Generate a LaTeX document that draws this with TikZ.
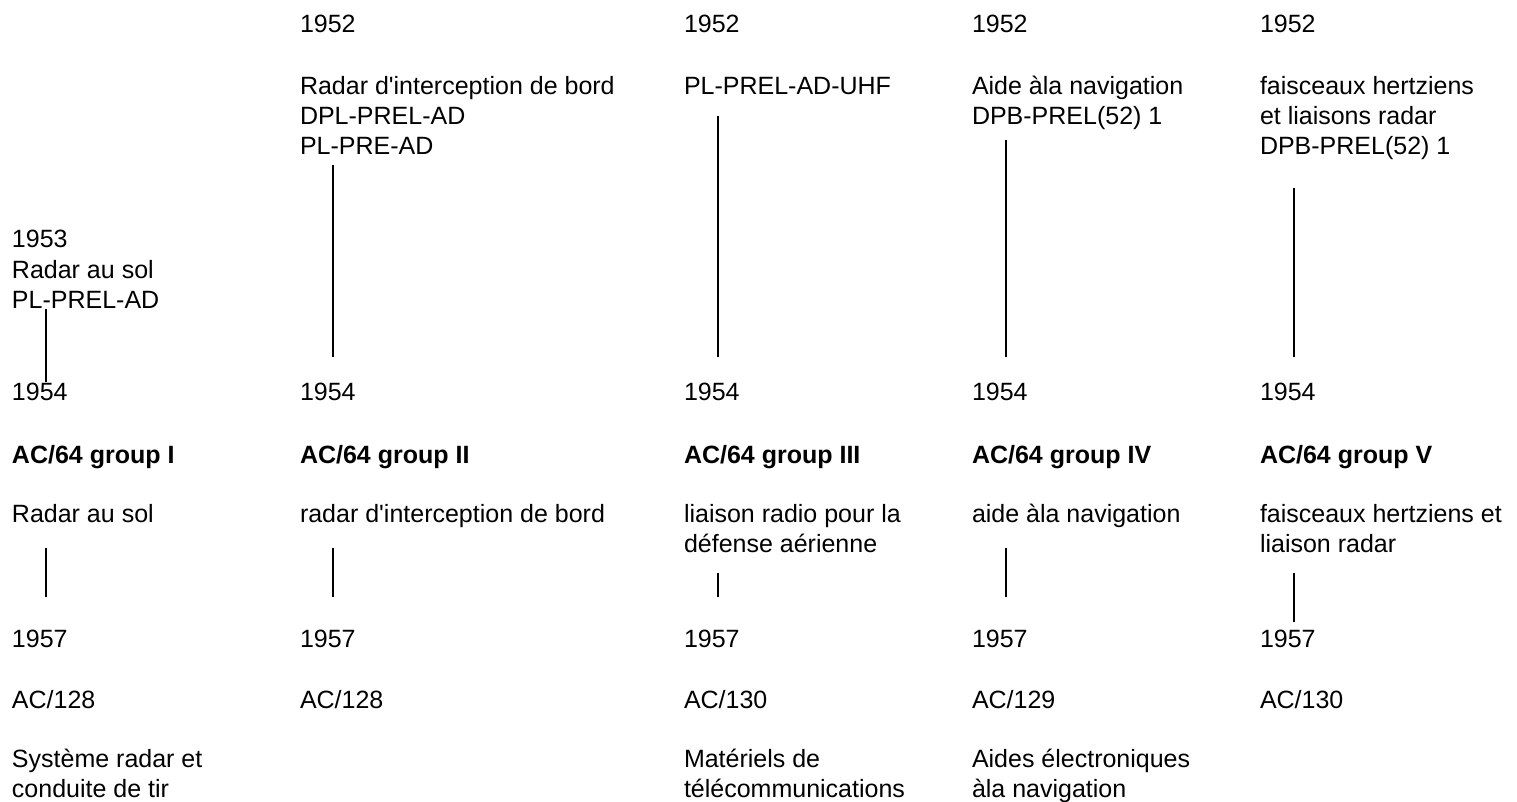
\documentclass[tikz,border=0pt]{standalone}
\usepackage{fontspec}
\setmainfont{Liberation Sans}[Ligatures=TeXOff]
\begin{document}
\begin{tikzpicture}[x=1pt,y=-1pt,
  txt/.style={anchor=base west,inner sep=0pt,outer sep=0pt,align=left,font=\fontsize{25}{30}\selectfont},
  hd/.style={txt,font=\fontsize{25}{30}\selectfont\bfseries},
  link/.style={line width=1.6pt}]
\useasboundingbox (0,0) rectangle (1517,802);
% column 1 (multi-line nodes are placed by the baseline of their last line)
\node[txt] (a0) at (12,308) {1953\\Radar au sol\\PL-PREL-AD};
\node[txt] (a1) at (12,400) {1954};
\node[hd]  (a2) at (12,463) {AC/64 group I};
\node[txt] (a3) at (12,522) {Radar au sol};
\node[txt] (a4) at (12,647) {1957};
\node[txt] (a5) at (12,708) {AC/128};
\node[txt] (a6) at (12,797) {Système radar et\\conduite de tir};
% column 2
\node[txt] (b0) at (300,33) {1952};
\node[txt] (b1) at (300,155) {Radar d'interception de bord\\DPL-PREL-AD\\PL-PRE-AD};
\node[txt] (b2) at (300,400) {1954};
\node[hd]  (b3) at (300,463) {AC/64 group II};
\node[txt] (b4) at (300,522) {radar d'interception de bord};
\node[txt] (b5) at (300,647) {1957};
\node[txt] (b6) at (300,708) {AC/128};
% column 3
\node[txt] (c0) at (684,33) {1952};
\node[txt] (c1) at (684,95) {PL-PREL-AD-UHF};
\node[txt] (c2) at (684,400) {1954};
\node[hd]  (c3) at (684,463) {AC/64 group III};
\node[txt] (c4) at (684,552) {liaison radio pour la\\défense aérienne};
\node[txt] (c5) at (684,647) {1957};
\node[txt] (c6) at (684,708) {AC/130};
\node[txt] (c7) at (684,797) {Matériels de\\télécommunications};
% column 4
\node[txt] (d0) at (972,33) {1952};
\node[txt] (d1) at (972,125) {Aide àla navigation\\DPB-PREL(52) 1};
\node[txt] (d2) at (972,400) {1954};
\node[hd]  (d3) at (972,463) {AC/64 group IV};
\node[txt] (d4) at (972,522) {aide àla navigation};
\node[txt] (d5) at (972,647) {1957};
\node[txt] (d6) at (972,708) {AC/129};
\node[txt] (d7) at (972,797) {Aides électroniques\\àla navigation};
% column 5
\node[txt] (e0) at (1260,33) {1952};
\node[txt] (e1) at (1260,155) {faisceaux hertziens\\et liaisons radar\\DPB-PREL(52) 1};
\node[txt] (e2) at (1260,400) {1954};
\node[hd]  (e3) at (1260,463) {AC/64 group V};
\node[txt] (e4) at (1260,552) {faisceaux hertziens et\\liaison radar};
\node[txt] (e5) at (1260,647) {1957};
\node[txt] (e6) at (1260,708) {AC/130};
% connector end points
\coordinate (a0b) at (46,309); \coordinate (a1t) at (46,382);
\coordinate (a3b) at (46,548); \coordinate (a4t) at (46,597);
\coordinate (b1b) at (333,165); \coordinate (b2t) at (333,357);
\coordinate (b4b) at (333,548); \coordinate (b5t) at (333,597);
\coordinate (c1b) at (718,116); \coordinate (c2t) at (718,357);
\coordinate (c4b) at (718,573); \coordinate (c5t) at (718,597);
\coordinate (d1b) at (1006,140); \coordinate (d2t) at (1006,357);
\coordinate (d4b) at (1006,548); \coordinate (d5t) at (1006,597);
\coordinate (e1b) at (1294,188); \coordinate (e2t) at (1294,357);
\coordinate (e4b) at (1294,573); \coordinate (e5t) at (1294,622);
\draw[link] (a0b) -- (a1t);
\draw[link] (a3b) -- (a4t);
\draw[link] (b1b) -- (b2t);
\draw[link] (b4b) -- (b5t);
\draw[link] (c1b) -- (c2t);
\draw[link] (c4b) -- (c5t);
\draw[link] (d1b) -- (d2t);
\draw[link] (d4b) -- (d5t);
\draw[link] (e1b) -- (e2t);
\draw[link] (e4b) -- (e5t);
\end{tikzpicture}
\end{document}
